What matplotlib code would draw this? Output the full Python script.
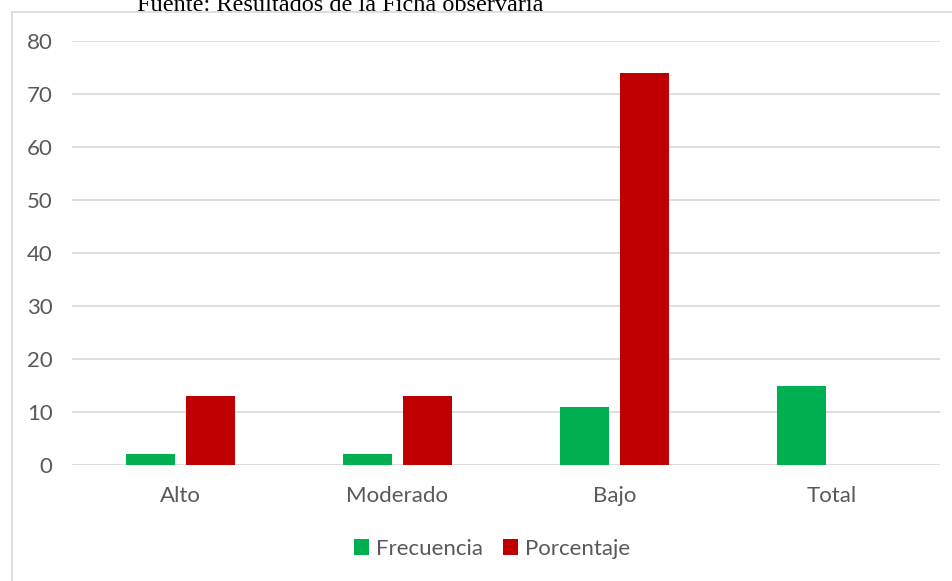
import matplotlib.pyplot as plt
import numpy as np
from matplotlib.patches import Rectangle

categorias = ['Alto', 'Moderado', 'Bajo', 'Total']
frecuencia = [2, 2, 11, 15]
porcentaje = [13, 13, 74, 0]
ticks_y = [0, 10, 20, 30, 40, 50, 60, 70, 80]

verde = '#00b050'
rojo = '#c00000'
gris = '#595959'

plt.rcParams['font.family'] = ['Lato', 'DejaVu Sans']

W, H = 953, 581
fig = plt.figure(figsize=(W / 100, H / 100), dpi=100)

# borde del grafico (recortado a la derecha y abajo)
fig.patches.append(Rectangle((12 / W, -0.05), 1.1, 1 - 12 / H + 0.05,
                             transform=fig.transFigure, fill=False,
                             edgecolor='#d9d9d9', linewidth=1.2))

# area de trazado: x 72..940, y 41..465
ax = fig.add_axes([72 / W, 1 - 465 / H, (940 - 72) / W, (465 - 41) / H])

x = np.arange(len(categorias))
ancho = 0.225
ax.bar(x - 0.14, frecuencia, ancho, color=verde, label='Frecuencia', zorder=3)
ax.bar(x + 0.14, porcentaje, ancho, color=rojo, label='Porcentaje', zorder=3)

ax.set_xlim(-0.5, len(categorias) - 0.5)
ax.set_ylim(0, 80)
ax.set_yticks(ticks_y)
ax.set_xticks(x)
ax.set_xticklabels(categorias)
ax.grid(axis='y', color='#d9d9d9', linewidth=1.2, zorder=0)
for s in ax.spines.values():
    s.set_visible(False)
ax.tick_params(length=0, labelsize=16, colors=gris)
ax.tick_params(axis='x', pad=15)
ax.tick_params(axis='y', pad=14)

fig.legend(loc='center', bbox_to_anchor=(492 / W, 1 - 549 / H), ncol=2,
           frameon=False, fontsize=16, labelcolor=gris, handlelength=0.7,
           handleheight=0.7, handletextpad=0.3, columnspacing=0.9)

fig.text(340 / W, 1 - 11 / H, 'Fuente: Resultados de la Ficha observaria',
         ha='center', va='baseline', fontsize=17.5, family='Liberation Serif',
         color='black')

fig.savefig('out.png', dpi=100)
